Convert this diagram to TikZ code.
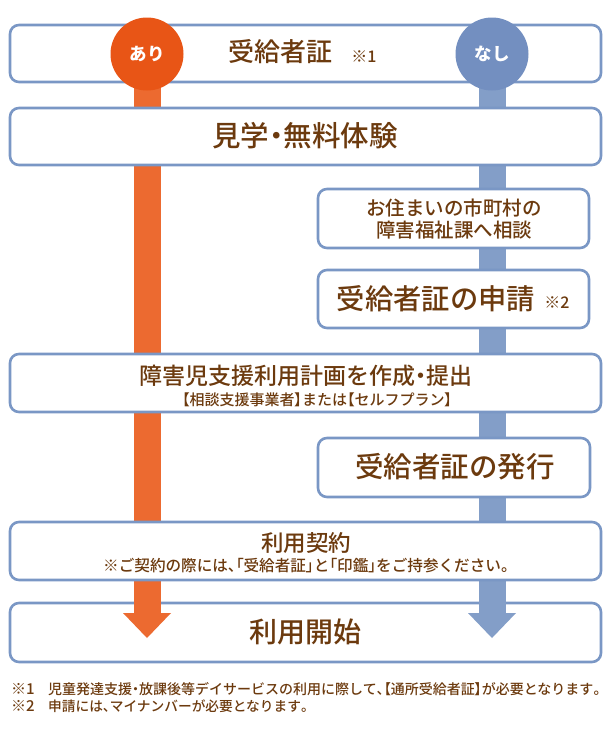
\documentclass[tikz,border=0pt]{standalone}
\usepackage{fontspec}
\newfontfamily\jp[UprightFont=* Medium]{Noto Sans CJK JP}
\newfontfamily\jpp[UprightFont=* Medium, RawFeature=+palt]{Noto Sans CJK JP}
\newfontfamily\jpb{Noto Sans CJK JP}
\newcommand{\pp}[1]{{\jpp #1}}
\definecolor{boxblue}{RGB}{122,151,197}
\definecolor{barblue}{RGB}{131,158,200}
\definecolor{circblue}{RGB}{115,143,192}
\definecolor{barorange}{RGB}{236,106,48}
\definecolor{circorange}{RGB}{232,85,22}
\definecolor{txtbrown}{RGB}{108,58,14}
\newcommand{\fs}[1]{\fontsize{#1}{#1}\selectfont}
\tikzset{
  box/.style={draw=boxblue, line width=2.6pt, fill=white, rounded corners=9pt, minimum width=#1, inner sep=0pt},
  box/.default={591pt},
  lbl/.style={text=txtbrown, inner sep=0pt, font=\jp},
  circ/.style={circle, minimum size=73pt, inner sep=0pt, text=white, font=\jpb\bfseries\fs{17.5}},
}
\begin{document}
\begin{tikzpicture}[x=1pt,y=-1pt]
\useasboundingbox (0,0) rectangle (614,731);
\coordinate (ariC) at (147,54);
\coordinate (nashiC) at (492,54);
\coordinate (tipA) at (147,638);
\coordinate (tipN) at (492,638);
% bars behind boxes
\draw[barorange, line width=27pt] (ariC) -- (147,615);
\draw[barblue, line width=27pt] (nashiC) -- (492,615);
% boxes
\node[box, minimum height=57pt] (b1) at (305.5,53.5) {};
\node[box, minimum height=57pt] (b2) at (305.5,136.5) {};
\node[box=271pt, minimum height=59pt] (b3) at (453.5,218.5) {};
\node[box=271pt, minimum height=58pt] (b4) at (453.5,299) {};
\node[box, minimum height=58pt] (b5) at (305.5,383) {};
\node[box=272pt, minimum height=59pt] (b6) at (454,467.5) {};
\node[box, minimum height=58pt] (b7) at (305.5,551) {};
\node[box, minimum height=59pt] (b8) at (305.5,632.5) {};
% arrow ends over box 8
\draw[barorange, line width=27pt] (b7.south -| tipA) ++(0,1.5) -- (147,615);
\fill[barorange] (123,613) -- (171,613) -- (tipA) -- cycle;
\draw[barblue, line width=27pt] (b7.south -| tipN) ++(0,1.5) -- (492,615);
\fill[barblue] (468,613) -- (516,613) -- (tipN) -- cycle;
% circles
\node[circ, fill=circorange] (ari) at (ariC) {あり};
\node[circ, fill=circblue] (nashi) at (nashiC) {なし};
% texts
\node[lbl, font=\jp\fs{26}] (t1) at (280,52) {受給者証};
\node[lbl, font=\jp\fs{16}] (t1n) at (364,57) {※1};
\node[lbl, font=\jp\fs{28.5}] (t2) at (305,136) {見学\pp{・}無料体験};
\node[lbl, font=\jp\fs{19.5}, align=center] (t3) at (454,219) {お住まいの市町村の\\[2pt]障害福祉課へ相談};
\node[lbl, font=\jp\fs{28.3}] (t4) at (436,299) {受給者証の申請};
\node[lbl, font=\jp\fs{16}] (t4n) at (557,303) {※2};
\node[lbl, font=\jp\fs{23}] (t5) at (306,376) {障害児支援利用計画を作成\pp{・}提出};
\node[lbl, font=\jp\fs{15}] (t5n) at (317,400) {\pp{【}相談支援事業者\pp{】}または\pp{【}セルフプラン\pp{】}};
\node[lbl, font=\jp\fs{28.5}] (t6) at (455,467) {受給者証の発行};
\node[lbl, font=\jp\fs{22.5}] (t7) at (306,543) {利用契約};
\node[lbl, font=\jp\fs{15.6}] (t7n) at (306,566) {※ご契約の際には\pp{、「}受給者証\pp{」}と\pp{「}印鑑\pp{」}をご持参ください\pp{。}};
\node[lbl, font=\jp\fs{28}] (t8) at (305,632) {利用開始};
\node[lbl, font=\jp\fs{15}, anchor=west] (f1) at (11,689) {※1};
\node[lbl, font=\jp\fs{14}, anchor=west] (f1t) at (48,689) {児童発達支援\pp{・}放課後等デイサービスの利用に際して\pp{、【}通所受給者証\pp{】}が必要となります\pp{。}};
\node[lbl, font=\jp\fs{15}, anchor=west] (f2) at (11,706) {※2};
\node[lbl, font=\jp\fs{13.7}, anchor=west] (f2t) at (48,706) {申請には\pp{、}マイナンバーが必要となります\pp{。}};
\end{tikzpicture}
\end{document}
